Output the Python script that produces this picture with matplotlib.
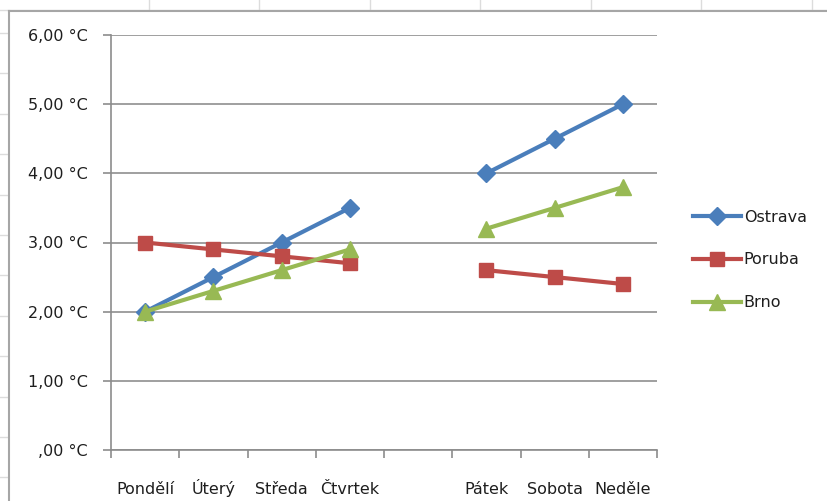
import numpy as np
import matplotlib.pyplot as plt
from matplotlib.lines import Line2D

days = ["Pondělí", "Úterý", "Středa", "Čtvrtek", "", "Pátek", "Sobota", "Neděle"]
ostrava = [2.0, 2.5, 3.0, 3.5, np.nan, 4.0, 4.5, 5.0]
poruba = [3.0, 2.9, 2.8, 2.7, np.nan, 2.6, 2.5, 2.4]
brno = [2.0, 2.3, 2.6, 2.9, np.nan, 3.2, 3.5, 3.8]
y_ticks = [0, 1, 2, 3, 4, 5, 6]

W, H = 828, 501
fig = plt.figure(figsize=(W / 100, H / 100), dpi=100)

# spreadsheet grid peeking around the chart frame
grid_c = "#dcdcdc"
for gx in [149, 259, 370, 480, 591, 701, 812]:
    fig.add_artist(Line2D([gx / W, gx / W], [1, 1 - 10 / H], color=grid_c, lw=1))
for gy in [33, 73, 114, 154, 195, 235, 275, 316, 356, 397, 437, 477]:
    fig.add_artist(Line2D([0, 8 / W], [1 - gy / H, 1 - gy / H], color=grid_c, lw=1))
fig.add_artist(Line2D([0, 1], [1 - 10 / H, 1 - 10 / H], color=grid_c, lw=1))
# chart frame
frame_c = "#a6a6a6"
fig.add_artist(Line2D([9 / W, 9 / W], [0, 1 - 11 / H], color=frame_c, lw=1.5))
fig.add_artist(Line2D([9 / W, 1], [1 - 11 / H, 1 - 11 / H], color=frame_c, lw=1.5))

ax = fig.add_axes([111 / W, 1 - 450 / H, 546 / W, 415 / H])
x = np.arange(len(days))
ax.plot(x, ostrava, color="#4a7ebb", lw=3, marker="D", ms=9.5, label="Ostrava")
ax.plot(x, poruba, color="#be4b48", lw=3, marker="s", ms=10, label="Poruba")
ax.plot(x, brno, color="#98b954", lw=3, marker="^", ms=11.5, label="Brno")

ax.set_xlim(-0.5, len(days) - 0.5)
ax.set_ylim(0, 6)
ax.set_yticks(y_ticks)
ax.set_yticklabels([(f"{v:.2f}".replace(".", ",") if v else ",00") + " °C" for v in y_ticks])
ax.set_xticks(x)
ax.set_xticklabels(days, va="baseline")
ax.set_xticks(np.arange(len(days) + 1) - 0.5, minor=True)
ax.tick_params(axis="x", which="major", length=0, pad=32)
ax.tick_params(axis="x", which="minor", length=6, color="#8c8c8c", width=1.2)
ax.tick_params(axis="y", length=6, color="#8c8c8c", width=1.2, pad=11)
ax.tick_params(labelsize=11.5, labelcolor="#1e1e1e")
ax.grid(axis="y", color="#8f8f8f", lw=1.2)
ax.set_axisbelow(True)
for s in ["top", "right"]:
    ax.spines[s].set_visible(False)
for s in ["left", "bottom"]:
    ax.spines[s].set_color("#8c8c8c")
    ax.spines[s].set_linewidth(1.2)

fig.legend(loc="center left", bbox_to_anchor=(679 / W, 1 - 260 / H), frameon=False,
           fontsize=11.5, handlelength=3.0, handletextpad=0.15, labelspacing=1.75,
           labelcolor="#1e1e1e")

fig.savefig("out.png", dpi=100)
